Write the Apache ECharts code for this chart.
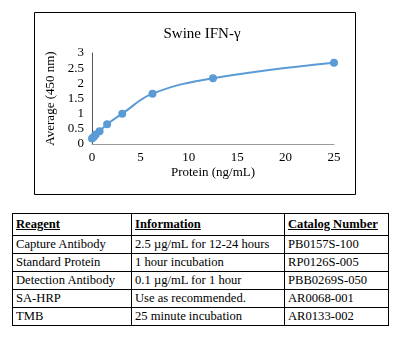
<!DOCTYPE html>
<html><head><meta charset="utf-8">
<script src="https://cdn.jsdelivr.net/npm/echarts@6/dist/echarts.min.js"></script>
<style>
html,body{margin:0;padding:0;background:#fff;}
#chart{position:absolute;left:0;top:0;width:398px;height:200px;}
#tbl{position:absolute;left:12px;top:213px;border-collapse:collapse;font-family:"Liberation Serif",serif;font-size:12.6px;color:#000;}
#tbl td{border:1px solid #000;padding:0 0 0 3px;height:17px;line-height:17px;white-space:nowrap;}
#tbl tr.h td{height:21px;font-weight:bold;text-decoration:underline;}
</style></head>
<body>
<div id="chart"></div>
<table id="tbl"></table>
<script>
const title = "Swine IFN-γ";
const xName = "Protein (ng/mL)";
const yName = "Average (450 nm)";
const protein = [0, 0.195, 0.39, 0.78, 1.5625, 3.125, 6.25, 12.5, 25];
const average = [0.18, 0.24, 0.31, 0.42, 0.65, 1.0, 1.66, 2.17, 2.68];
const tableHeader = ["Reagent", "Information", "Catalog Number"];
const reagents = ["Capture Antibody", "Standard Protein", "Detection Antibody", "SA-HRP", "TMB"];
const information = ["2.5 µg/mL for 12-24 hours", "1 hour incubation", "0.1 µg/mL for 1 hour", "Use as recommended.", "25 minute incubation"];
const catalog = ["PB0157S-100", "RP0126S-005", "PBB0269S-050", "AR0068-001", "AR0133-002"];
const colWidths = [119, 153, 104];

const tbl = document.getElementById('tbl');
function addRow(cells, cls){
  const tr = document.createElement('tr');
  if (cls) tr.className = cls;
  cells.forEach((c,i)=>{const td=document.createElement('td');td.textContent=c;td.style.width=(colWidths[i]-4)+'px';tr.appendChild(td);});
  tbl.appendChild(tr);
}
addRow(tableHeader, 'h');
reagents.forEach((r,i)=>addRow([r, information[i], catalog[i]]));

const font = '"Liberation Serif", serif';
const chart = echarts.init(document.getElementById('chart'));
chart.setOption({
  animation:false,
  graphic:[{type:'rect',shape:{x:34.5,y:12.5,width:321,height:182},style:{fill:'none',stroke:'#000',lineWidth:1}}],
  title:{text:title,left:197,top:22,textAlign:'center',textStyle:{fontFamily:font,fontSize:15,fontWeight:'normal',color:'#000'}},
  grid:{left:92,right:64,top:53,bottom:56},
  xAxis:{type:'value',min:0,max:25,interval:5,name:xName,nameLocation:'middle',nameGap:22,
    nameTextStyle:{fontFamily:font,fontSize:13,color:'#000'},
    axisLine:{lineStyle:{color:'#999'}},axisTick:{show:false},splitLine:{show:false},
    axisLabel:{fontFamily:font,fontSize:13,color:'#000',margin:7}},
  yAxis:{type:'value',min:0,max:3,interval:0.5,name:yName,nameLocation:'middle',nameGap:26,
    nameTextStyle:{fontFamily:font,fontSize:13,color:'#000'},
    axisLine:{show:true,lineStyle:{color:'#555'}},axisTick:{show:false},splitLine:{show:false},
    axisLabel:{fontFamily:font,fontSize:13,color:'#000',margin:8}},
  series:[{type:'line',data:protein.map((x,i)=>[x,average[i]]),smooth:0.4,symbol:'circle',symbolSize:8,
    itemStyle:{color:'#5B9BD5'},lineStyle:{color:'#5B9BD5',width:2}}]
});
</script>
</body></html>
